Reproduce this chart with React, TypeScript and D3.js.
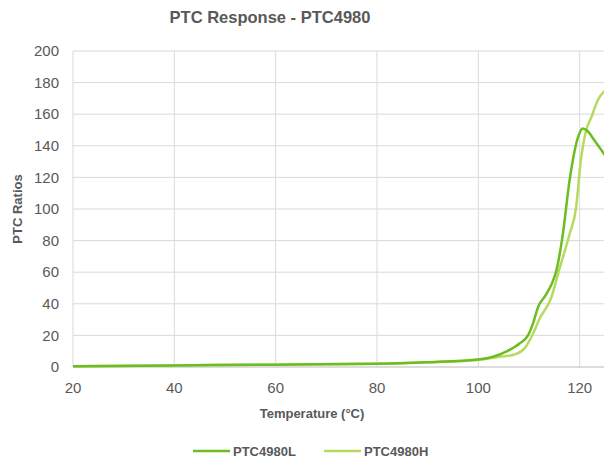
import * as d3 from "d3";

const WIDTH = 604;
const HEIGHT = 461;
const PLOT = { left: 73, right: 605, top: 51, bottom: 367 };

const X_TICKS = [20, 40, 60, 80, 100, 120];
const Y_TICKS = [0, 20, 40, 60, 80, 100, 120, 140, 160, 180, 200];

// PTC4980L (dark green)
const tempL = [20, 40, 60, 80, 90, 100.3, 102.9, 105.5, 108.2, 109.8, 110.8, 111.8, 113.2, 114.4, 115.4, 116.7, 118, 119.7, 120.6, 121.5, 123, 125];
const ratioL = [0.5, 1, 1.5, 2, 3, 4.9, 6.5, 9.7, 15, 20, 27.6, 38, 45, 52, 61, 84.6, 118, 145.7, 151, 149.5, 143, 134];

// PTC4980H (light green)
const tempH = [20, 40, 60, 80, 90, 100, 104.2, 106.8, 109.1, 110.8, 112, 114.4, 116, 118, 119.3, 120.2, 120.6, 121.3, 122.3, 123.6, 125];
const ratioH = [0.5, 1, 1.5, 2, 3, 4.5, 6.5, 7.6, 11.8, 21, 30, 44, 62, 84, 101, 130, 139, 150, 158, 169, 175];

const SERIES = [
  { name: "PTC4980L", temps: tempL, ratios: ratioL, color: "#6cbd22" },
  { name: "PTC4980H", temps: tempH, ratios: ratioH, color: "#b6da5c" },
];

const x = d3.scaleLinear().domain([20, 125]).range([PLOT.left, PLOT.right]);
const y = d3.scaleLinear().domain([0, 200]).range([PLOT.bottom, PLOT.top]);

const line = d3
  .line<[number, number]>()
  .x((d) => x(d[0]))
  .y((d) => y(d[1]))
  .curve(d3.curveMonotoneX);

const FONT = "Arial, 'Liberation Sans', sans-serif";
const TEXT = "#595959";

export default function App() {
  return (
    <svg
      width={WIDTH}
      height={HEIGHT}
      style={{ position: "absolute", left: 0, top: 0, background: "#fff" }}
      fontFamily={FONT}
    >
      <defs>
        <clipPath id="plot-clip">
          <rect x={PLOT.left} y={0} width={WIDTH - PLOT.left} height={PLOT.bottom + 2} />
        </clipPath>
      </defs>
      <text x={270} y={23} textAnchor="middle" fontSize={16.5} fontWeight="bold" fill={TEXT}>
        PTC Response - PTC4980
      </text>

      {Y_TICKS.map((t) => (
        <g key={"y" + t}>
          {t > 0 && (
            <line x1={PLOT.left} x2={WIDTH} y1={y(t)} y2={y(t)} stroke="#d9d9d9" strokeWidth={1} />
          )}
          <text x={59} y={y(t)} dy="0.35em" textAnchor="end" fontSize={15} fill={TEXT}>
            {t}
          </text>
        </g>
      ))}
      {X_TICKS.map((t) => (
        <g key={"x" + t}>
          <line x1={x(t)} x2={x(t)} y1={PLOT.top} y2={PLOT.bottom} stroke="#d9d9d9" strokeWidth={1} />
          <text x={x(t)} y={393} textAnchor="middle" fontSize={15} fill={TEXT}>
            {t}
          </text>
        </g>
      ))}
      <line x1={PLOT.left} x2={WIDTH} y1={PLOT.bottom} y2={PLOT.bottom} stroke="#d0d0d0" strokeWidth={1.5} />

      <g clipPath="url(#plot-clip)">
        {[...SERIES].reverse().map((s) => (
          <path
            key={s.name}
            d={line(s.temps.map((t, i) => [t, s.ratios[i]] as [number, number])) ?? ""}
            fill="none"
            stroke={s.color}
            strokeWidth={2.5}
          />
        ))}
      </g>

      <text
        transform={`translate(22,${(PLOT.top + PLOT.bottom) / 2}) rotate(-90)`}
        textAnchor="middle"
        fontSize={13}
        fontWeight="bold"
        fill={TEXT}
      >
        PTC Ratios
      </text>
      <text x={312} y={418} textAnchor="middle" fontSize={13} fontWeight="bold" fill={TEXT}>
        Temperature (°C)
      </text>

      {SERIES.map((s, i) => {
        const lx = 193 + i * 131;
        return (
          <g key={"lg" + s.name}>
            <line x1={lx} x2={lx + 37} y1={451} y2={451} stroke={s.color} strokeWidth={2.5} />
            <text x={lx + 40} y={451} dy="0.35em" fontSize={13} fontWeight="bold" fill={TEXT}>
              {s.name}
            </text>
          </g>
        );
      })}
    </svg>
  );
}
